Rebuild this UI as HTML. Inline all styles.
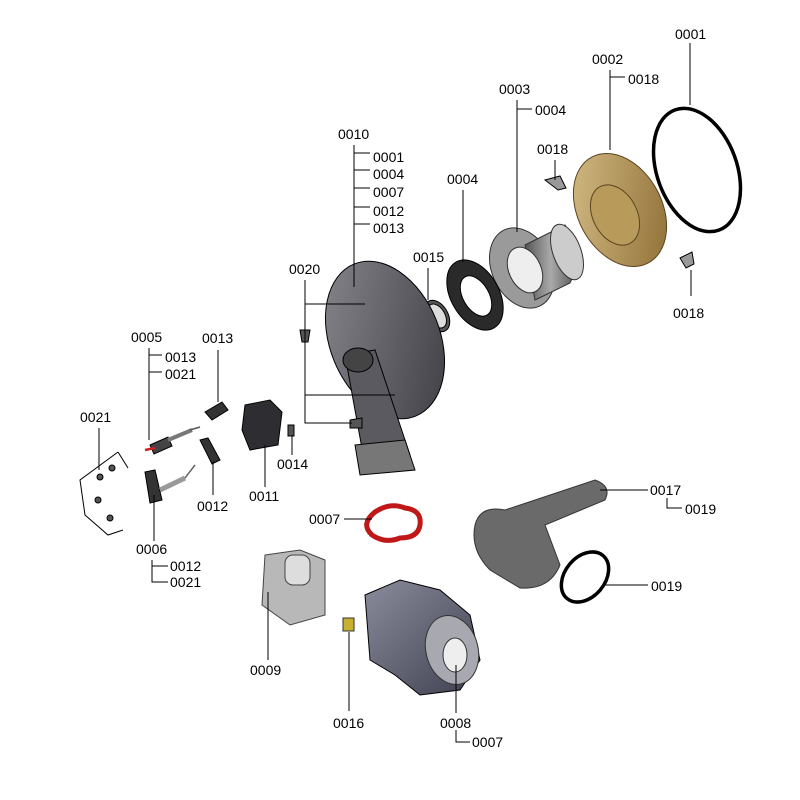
<!DOCTYPE html>
<html><head><meta charset="utf-8"><style>
html,body{margin:0;padding:0;background:#fff;}
svg{display:block;}
text{font-family:"Liberation Sans",sans-serif;font-size:14px;fill:#000;}
</style></head><body>
<svg width="800" height="800" viewBox="0 0 800 800" xmlns="http://www.w3.org/2000/svg">
<defs>
<linearGradient id="g1" x1="0" y1="0" x2="1" y2="1"><stop offset="0" stop-color="#8a8a90"/><stop offset="1" stop-color="#3a3a40"/></linearGradient>
<linearGradient id="g2" x1="0" y1="0" x2="1" y2="0"><stop offset="0" stop-color="#555"/><stop offset=".5" stop-color="#aaa"/><stop offset="1" stop-color="#555"/></linearGradient>
<linearGradient id="gold" x1="0" y1="0" x2="1" y2="1"><stop offset="0" stop-color="#d8c08a"/><stop offset="1" stop-color="#8a6a30"/></linearGradient>
<linearGradient id="bl" x1="0" y1="0" x2="1" y2="1"><stop offset="0" stop-color="#8a8c9c"/><stop offset="1" stop-color="#3e4050"/></linearGradient>
</defs>
<g stroke="#000" stroke-width="1" fill="none">
<!-- 0001 ring -->
<ellipse cx="697" cy="170" rx="40" ry="64" transform="rotate(-20 697 170)" stroke-width="3.5"/>
<!-- 0002 gold -->
<ellipse cx="620" cy="210" rx="42" ry="60" transform="rotate(-28 620 210)" fill="url(#gold)" stroke="#5a4520"/>
<ellipse cx="615" cy="215" rx="22" ry="32" transform="rotate(-28 615 215)" fill="#b89a5a" stroke="#5a4520"/>
<!-- 0003 tube -->
<ellipse cx="522" cy="268" rx="30" ry="42" transform="rotate(-25 522 268)" fill="#9a9a9a" stroke="#333"/>
<path d="M525 245 L565 225 Q585 255 570 283 L535 300 Z" fill="url(#g2)" stroke="#333"/>
<ellipse cx="567" cy="252" rx="14" ry="29" transform="rotate(-20 567 252)" fill="#ccc" stroke="#333"/>
<ellipse cx="525" cy="270" rx="16" ry="24" transform="rotate(-25 525 270)" fill="#eee" stroke="#333"/>
<!-- 0004 gasket -->
<ellipse cx="475" cy="295" rx="24" ry="38" transform="rotate(-30 475 295)" fill="#2a2a2a"/>
<ellipse cx="476" cy="296" rx="13" ry="22" transform="rotate(-30 476 296)" fill="#fff"/>
<!-- 0015 -->
<ellipse cx="437" cy="316" rx="11" ry="17" transform="rotate(-30 437 316)" fill="#555"/>
<ellipse cx="437" cy="316" rx="8" ry="13" transform="rotate(-30 437 316)" fill="#ddd"/>
<!-- 0018 clips -->
<path d="M545 180 L560 176 L566 188 L558 190 Z" fill="#999"/>
<path d="M680 258 L692 252 L694 264 L686 268 Z" fill="#999"/>
<!-- 0010 housing -->
<ellipse cx="385" cy="340" rx="55" ry="82" transform="rotate(-22 385 340)" fill="url(#g1)"/>
<path d="M345 355 L375 350 L410 455 L400 470 L365 465 Z" fill="#5a5a60"/>
<path d="M355 445 L405 440 L415 470 L360 475 Z" fill="#777"/>
<ellipse cx="358" cy="360" rx="15" ry="12" fill="#444"/>
<!-- 0020 screws -->
<path d="M300 330 L310 330 L308 342 L302 342 Z" fill="#555"/>
<path d="M350 420 L362 418 L362 428 L350 428 Z" fill="#555"/>
<!-- 0014 -->
<rect x="288" y="425" width="6" height="11" fill="#555"/>
<!-- 0011 -->
<path d="M245 405 L270 400 L282 412 L278 445 L250 450 L242 430 Z" fill="#2e2e32"/>
<!-- 0013 -->
<path d="M205 412 L222 402 L228 410 L212 420 Z" fill="#333"/>
<!-- 0012 -->
<path d="M200 440 L208 438 L220 460 L212 464 Z" fill="#333"/>
<!-- 0005 electrode -->
<path d="M150 445 L168 437 L172 446 L154 454 Z" fill="#444"/>
<path d="M168 440 L192 430" stroke="#777" stroke-width="4"/>
<path d="M190 430 L200 427" stroke="#555" stroke-width="1.5"/>
<path d="M145 450 L155 448" stroke="#c22" stroke-width="2.5"/>
<!-- 0006 -->
<path d="M145 472 L155 470 L162 500 L150 503 Z" fill="#333"/>
<path d="M160 490 L185 478" stroke="#999" stroke-width="5"/>
<path d="M185 478 L195 465" stroke="#666" stroke-width="1.5"/>
<!-- 0021 bracket and screws -->
<path d="M118 452 L128 468 M118 452 L80 480 L85 515 L108 535 L123 530"/>
<circle cx="100" cy="477" r="3" fill="#555"/><circle cx="112" cy="468" r="3" fill="#555"/>
<circle cx="98" cy="500" r="3" fill="#555"/><circle cx="110" cy="518" r="3" fill="#555"/>
<!-- 0007 red gasket -->
<path d="M375 512 Q390 502 405 508 Q422 510 420 525 Q418 538 400 538 Q385 544 372 535 Q360 524 375 512 Z" fill="#fff" stroke="#c01818" stroke-width="5"/>
<!-- 0017 pipe -->
<path d="M475 525 Q480 505 505 510 L595 480 Q612 486 605 500 L545 525 L560 565 Q550 590 520 588 L490 570 Q470 550 475 525 Z" fill="#6a6a6a" stroke="#333"/>
<!-- 0019 ring -->
<ellipse cx="585" cy="577" rx="20" ry="28" transform="rotate(40 585 577)" stroke-width="3.5"/>
<!-- 0009 valve -->
<path d="M265 555 L300 550 L325 560 L325 615 L290 625 L262 605 Z" fill="#b8b8b8" stroke="#444"/>
<rect x="285" y="555" width="25" height="30" rx="8" fill="#ddd" stroke="#444"/>
<!-- 0016 -->
<rect x="343" y="618" width="11" height="13" fill="#c8b030" stroke="#333"/>
<!-- 0008 fan -->
<path d="M365 595 L400 580 L440 590 L470 615 L480 660 L460 690 L420 695 L395 675 L370 660 Z" fill="url(#bl)"/>
<ellipse cx="452" cy="650" rx="26" ry="35" transform="rotate(-15 452 650)" fill="#a8a8b0" stroke="#333"/>
<ellipse cx="455" cy="655" rx="12" ry="17" fill="#eee" stroke="#333"/>
</g>

<!-- leader lines -->
<g stroke="#000" stroke-width="1" fill="none">
<path d="M690 43 L690 105"/>
<path d="M610 70 L610 150 M610 77 L625 77"/>
<path d="M517 100 L517 232 M517 109 L532 109"/>
<path d="M555 160 L555 180"/>
<path d="M463 190 L463 262"/>
<path d="M428 268 L428 300"/>
<path d="M691 270 L691 296"/>
<path d="M354 145 L354 287 M354 153 L370 153 M354 170 L370 170 M354 188 L370 188 M354 207 L370 207 M354 224 L370 224"/>
<path d="M305 280 L305 423 L352 423 M305 304 L365 304 M305 395 L395 395"/>
<path d="M149 348 L149 440 M149 355 L162 355 M149 372 L162 372"/>
<path d="M218 350 L218 402"/>
<path d="M99 428 L99 470"/>
<path d="M292 435 L292 455"/>
<path d="M265 445 L265 487"/>
<path d="M213 462 L213 495"/>
<path d="M154 495 L154 541 M152 560 L152 582 L168 582 M152 566 L168 566"/>
<path d="M344 519 L372 519"/>
<path d="M600 490 L648 490 M667 498 L667 508 L682 508"/>
<path d="M604 585 L648 585"/>
<path d="M268 592 L268 660"/>
<path d="M349 632 L349 711"/>
<path d="M456 665 L456 713 M456 730 L456 742 L470 742"/>
</g>

<g>
<text x="675" y="39">0001</text>
<text x="592" y="64">0002</text>
<text x="628" y="84">0018</text>
<text x="499" y="94">0003</text>
<text x="535" y="115">0004</text>
<text x="537" y="154">0018</text>
<text x="447" y="184">0004</text>
<text x="413" y="262">0015</text>
<text x="673" y="318">0018</text>
<text x="338" y="139">0010</text>
<text x="373" y="162">0001</text>
<text x="373" y="179">0004</text>
<text x="373" y="197">0007</text>
<text x="373" y="216">0012</text>
<text x="373" y="233">0013</text>
<text x="289" y="274">0020</text>
<text x="131" y="342">0005</text>
<text x="165" y="362">0013</text>
<text x="165" y="379">0021</text>
<text x="202" y="343">0013</text>
<text x="80" y="422">0021</text>
<text x="277" y="469">0014</text>
<text x="249" y="501">0011</text>
<text x="197" y="511">0012</text>
<text x="136" y="554">0006</text>
<text x="170" y="571">0012</text>
<text x="170" y="587">0021</text>
<text x="309" y="524">0007</text>
<text x="650" y="495">0017</text>
<text x="685" y="514">0019</text>
<text x="651" y="591">0019</text>
<text x="250" y="675">0009</text>
<text x="333" y="728">0016</text>
<text x="440" y="728">0008</text>
<text x="472" y="747">0007</text>
</g>
</svg>
</body></html>
